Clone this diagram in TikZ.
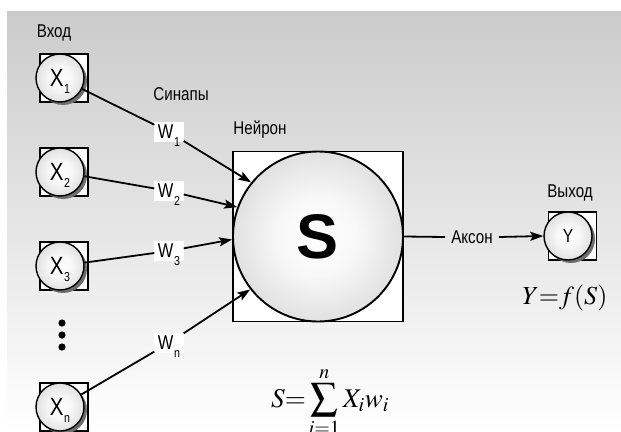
\documentclass[tikz,border=0pt]{standalone}
\usepackage{mathptmx}
\usepackage{fontspec}
\setmainfont{Liberation Sans}[FakeStretch=0.82]
\newfontfamily\bigsans{Liberation Sans}
\usepackage{tikz}
\usetikzlibrary{arrows.meta}
\definecolor{bgtop}{HTML}{CBCBCB}
\definecolor{shadowgr}{HTML}{6E6E6E}
\pgfdeclareradialshading{ball}{\pgfpoint{0bp}{0bp}}{%
  color(0bp)=(white); color(12bp)=(white!97!black); color(34bp)=(white!82!black);
  color(50bp)=(white!60!black); color(100bp)=(white!60!black)}

\newcommand{\lsub}[3][7pt]{#2\kern0.6pt\raisebox{-#1}[0pt][0pt]{\fontsize{13}{13}\selectfont #3}}

\tikzset{
  ubox/.style={draw, line width=1.8pt, fill=white, minimum size=48pt, inner sep=0pt},
  ushade/.style={circle, fill=shadowgr, minimum size=48pt, inner sep=0pt},
  unit/.style={circle, draw, line width=1.4pt, shade, shading=ball, minimum size=48pt,
               inner sep=0pt, font=\fontsize{25}{25}\selectfont},
  nbox/.style={draw, line width=1.9pt, fill=white, minimum size=170pt, inner sep=0pt},
  neuron/.style={circle, draw, line width=1.9pt, shade, shading=ball, minimum size=170pt,
                 inner sep=0pt, font=\bigsans\bfseries\fontsize{63}{63}\selectfont},
  wlbl/.style={fill=white, inner sep=3.5pt, font=\fontsize{20}{20}\selectfont},
  lbl/.style={anchor=base, inner sep=0pt, font=\fontsize{18.5}{20}\selectfont},
  syn/.style={line width=1.8pt},
  arr/.style={syn, -{Stealth[length=13pt, width=9pt, inset=2.5pt]}}
}

\begin{document}
\begin{tikzpicture}[x=1pt, y=-1pt]
  \useasboundingbox (0,0) rectangle (621,431);
  \fill[white] (0,0) rectangle (621,431);
  \shade[top color=bgtop, bottom color=white] (7,11) rectangle (621,431);

  % input units
  \foreach \i/\yy in {1/78, 2/172, 3/266, n/407}{
    \node[ubox] (b\i) at (64,\yy) {};
    \node[ushade] at (63,\yy+3) {};
    \node[unit] (x\i) at (60,\yy) {\lsub{X}{\i}};
  }
  \foreach \k in {0,1,2}
    \fill (62,323+12*\k) circle (3.6pt);

  % neuron
  \node[nbox] (nbox) at (318,236.5) {};
  \node[neuron] (neuron) at (318,236.5) {S};

  % synapses
  \foreach \i/\yy/\ang in {1/132/141, 2/191/160, 3/251/182, n/343/218}{
    \node[wlbl] (w\i) at (169,\yy) {\lsub[8pt]{W}{\i}};
    \draw[syn] (x\i) -- (w\i);
    \draw[arr] (w\i) -- (neuron.\ang);
  }

  % output
  \node[ubox] (by) at (572.5,236) {};
  \node[ushade] at (571,239) {};
  \node[unit, font=\fontsize{19}{19}\selectfont] (y) at (568,236) {Y};
  \node[lbl, inner sep=6pt, anchor=center] (axon) at (472,237) {Аксон};
  \draw[syn] (nbox.east) -- (axon.west);
  \draw[arr] (axon.east) -- (y.west);

  % labels
  \node[lbl] (inlbl) at (54,37) {Вход};
  \node[lbl] (synlbl) at (181,100) {Синапы};
  \node[lbl] (nlbl) at (260,134) {Нейрон};
  \node[lbl] (outlbl) at (570,197) {Выход};
  \node[anchor=base, inner sep=0pt, font=\fontsize{26}{30}\selectfont] (yfs) at (565,304) {$Y{=}f(S)$};
  \node[anchor=base, inner sep=0pt, font=\fontsize{27}{30}\selectfont] (sum) at (330,407)
    {$\displaystyle S{=}\sum_{i=1}^{n} X_i w_i$};
\end{tikzpicture}
\end{document}
